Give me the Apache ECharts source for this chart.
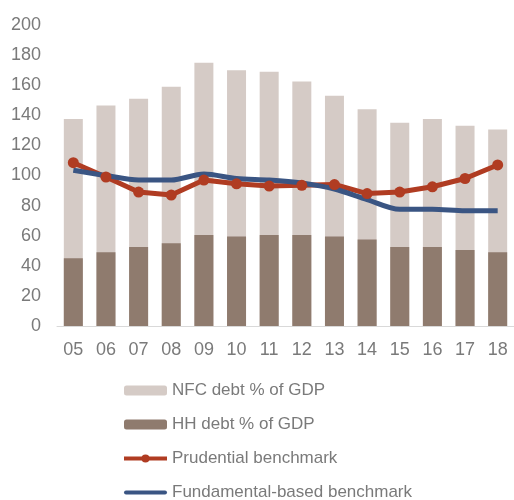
<!DOCTYPE html>
<html>
<head>
<meta charset="utf-8">
<script src="https://cdn.jsdelivr.net/npm/echarts@6/dist/echarts.min.js"></script>
<style>
  html, body { margin: 0; padding: 0; background: #fff; }
  #main { width: 514px; height: 500px; }
</style>
</head>
<body>
<div id="main"></div>
<script>
// categories (years)
var years = ['05', '06', '07', '08', '09', '10', '11', '12', '13', '14', '15', '16', '17', '18']
// total debt bar (light) and household debt bar (dark), % of GDP
var nfcDebt = [137.5, 146.5, 151, 159, 175, 170, 169, 162.5, 153, 144, 135, 137.5, 133, 130.5]
var hhDebt = [45, 49, 52.5, 55, 60.5, 59.5, 60.5, 60.5, 59.5, 57.5, 52.5, 52.5, 50.5, 49]
// benchmarks
var prudential = [108.5, 99, 89, 87, 97, 94.5, 93, 93.5, 94, 88, 89, 92.5, 98, 107]
var fundamental = [103.5, 100, 97, 97, 101, 98, 97, 95, 91, 84, 77.5, 77.5, 76.5, 76.5]

var gray = '#7a7a7a'
var red = '#b03c22'
var blue = '#3a5583'

var chart = echarts.init(document.getElementById('main'))
chart.setOption({
  animation: false,
  grid: {
    left: 57,
    top: 25,
    width: 460,
    height: 301
  },
  legend: {
    orient: 'vertical',
    left: 117,
    top: 377,
    height: 200,
    itemWidth: 43,
    itemHeight: 10,
    itemGap: 17,
    textStyle: { color: gray, fontSize: 17, lineHeight: 17, fontFamily: 'Liberation Sans' },
    data: [
      { name: 'NFC debt % of GDP' },
      { name: 'HH debt % of GDP' },
      { name: 'Prudential benchmark', lineStyle: { width: 4 } },
      { name: 'Fundamental-based benchmark', icon: 'path://M2,0 H41 A2,2 0 0 1 41,4 H2 A2,2 0 0 1 2,0 Z' }
    ]
  },
  xAxis: {
    type: 'category',
    data: years,
    axisLine: { lineStyle: { color: '#d9d9d9', width: 1 } },
    axisTick: { show: false },
    axisLabel: { color: gray, fontSize: 18, fontFamily: 'Liberation Sans', margin: 15 }
  },
  yAxis: {
    type: 'value',
    min: 0,
    max: 200,
    interval: 20,
    axisLine: { show: false },
    axisTick: { show: false },
    splitLine: { show: false },
    axisLabel: { color: gray, fontSize: 18, fontFamily: 'Liberation Sans', margin: 16 }
  },
  series: [
    {
      name: 'NFC debt % of GDP',
      type: 'bar',
      data: nfcDebt,
      barWidth: 19,
      barGap: '-100%',
      itemStyle: { color: '#d5cbc6' }
    },
    {
      name: 'HH debt % of GDP',
      type: 'bar',
      data: hhDebt,
      barWidth: 19,
      barGap: '-100%',
      itemStyle: { color: '#8f7b6e' }
    },
    {
      name: 'Prudential benchmark',
      type: 'line',
      data: prudential,
      symbol: 'circle',
      symbolSize: 11,
      lineStyle: { color: red, width: 5 },
      itemStyle: { color: red }
    },
    {
      name: 'Fundamental-based benchmark',
      type: 'line',
      data: fundamental,
      symbol: 'none',
      smooth: 0.3,
      lineStyle: { color: blue, width: 5 },
      itemStyle: { color: blue }
    }
  ]
})
</script>
</body>
</html>
